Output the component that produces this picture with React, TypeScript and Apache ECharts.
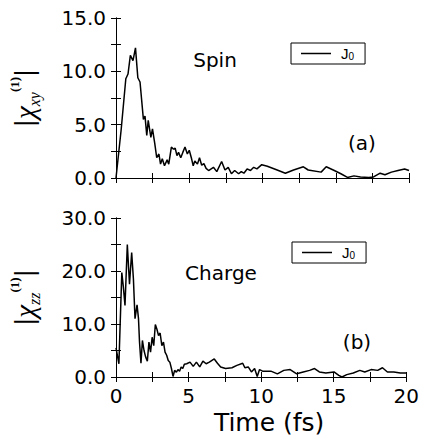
import React, { useEffect, useRef } from "react";
import * as echarts from "echarts";

// ---- data ----
const spinTime = [
  0, 0.35, 0.67, 0.82, 0.98, 1.16, 1.33, 1.49, 1.64, 1.87, 1.98, 2.1, 2.2, 2.38, 2.49, 2.64, 2.78, 2.93,
  3.04, 3.16, 3.31, 3.49, 3.6, 3.78, 3.93, 4.04, 4.16, 4.27, 4.42, 4.56, 4.71, 4.87, 5.0, 5.16, 5.27,
  5.38, 5.56, 5.7, 5.85, 6.0, 6.15, 6.32, 6.65, 6.88, 7.21, 7.44, 7.66, 7.88, 8.1, 8.37, 8.55, 8.73,
  8.95, 9.18, 9.4, 9.62, 9.95, 10.33, 11.0, 11.56, 12.12, 12.79, 13.12, 14.0, 14.35, 14.9, 15.35,
  15.8, 16.24, 16.69, 17.25, 17.58, 18.03, 18.36, 18.8, 19.25, 19.7, 20.0,
];
const spinValue = [
  0, 4.5, 9.3, 9.75, 11.5, 11.0, 12.2, 9.4, 9.0, 5.5, 5.8, 4.0, 5.4, 3.8, 4.6, 3.3, 1.9, 2.25,
  1.3, 1.8, 1.15, 1.7, 1.3, 2.9, 2.7, 2.8, 2.1, 2.4, 1.9, 2.4, 2.9, 2.25, 2.6, 1.8, 1.15,
  1.6, 1.3, 1.9, 1.2, 1.35, 0.9, 0.7, 1.0, 0.6, 1.55, 0.75, 1.0, 0.4, 0.7, 0.4, 0.6, 0.45,
  0.85, 0.7, 1.0, 0.85, 1.25, 1.1, 0.75, 0.45, 0.75, 1.05, 0.75, 0.55, 1.05, 0.7, 0.4,
  0.05, 0.2, 0.1, 0.05, 0.1, 0.45, 0.3, 0.55, 0.7, 0.85, 0.7,
];
const chargeTime = [
  0, 0.2, 0.4, 0.5, 0.62, 0.78, 0.93, 1.08, 1.2, 1.31, 1.45, 1.55, 1.62, 1.72, 1.82, 1.93, 2.04, 2.16,
  2.27, 2.38, 2.49, 2.6, 2.71, 2.82, 2.93, 3.04, 3.16, 3.27, 3.38, 3.49, 3.6, 3.71, 3.82, 3.93, 4.04,
  4.16, 4.27, 4.38, 4.49, 4.6, 4.71, 4.87, 5.1, 5.32, 5.54, 5.77, 5.99, 6.21, 6.43, 6.77, 6.99, 7.21,
  7.55, 7.99, 8.33, 8.73, 8.88, 9.11, 9.33, 9.55, 9.73, 9.89, 10.1, 10.67, 11.12, 11.56, 12.0, 12.45,
  12.9, 13.34, 13.68, 14.01, 14.46, 15.02, 15.35, 15.57, 15.9, 16.35, 16.8, 17.14, 17.58, 18.03,
  18.36, 18.7, 19.14, 19.59, 20.0,
];
const chargeValue = [
  5.5, 2.5, 19.7, 17.2, 13.5, 25.0, 17.5, 23.5, 18.5, 11.0, 13.6, 11.0, 6.6, 2.6, 6.9, 5.0, 3.8, 3.0,
  6.6, 4.7, 7.5, 5.9, 9.9, 9.0, 7.8, 8.3, 5.9, 6.6, 4.7, 4.1, 3.1, 2.8, 1.6, 0.1, 1.25,
  0.9, 1.4, 1.1, 1.9, 1.6, 2.4, 2.5, 2.8, 2.0, 2.8, 1.9, 3.0, 2.5, 2.8, 3.4, 2.6, 1.9,
  1.6, 1.75, 2.2, 2.6, 1.75, 1.9, 0.95, 1.6, 0.1, 1.4, 1.1, 1.1, 0.6, 1.25, 1.4, 0.6,
  0.95, 1.25, 1.6, 0.95, 0.75, 0.95, 0.3, 0.0, 0.45, 0.75, 1.25, 0.95, 1.4, 1.25,
  1.75, 0.95, 0.95, 0.75, 0.75,
];
// axis ranges: tick every `interval`, label every `labelEvery`
const xTicks = { min: 0, max: 20, interval: 2.5, labelEvery: 5 };
const spinAxis = { min: 0, max: 15, interval: 2.5, labelEvery: 5 };
const chargeAxis = { min: 0, max: 30, interval: 5, labelEvery: 10 };
const seriesName = "J0";
const panelTitles = ["Spin", "Charge"];
const panelTags = ["(a)", "(b)"];

const FONT = "DejaVu Sans";

const isMultiple = (v: number, m: number) => Math.abs(v / m - Math.round(v / m)) < 1e-6;

export default function App() {
  const ref = useRef<HTMLDivElement>(null);
  useEffect(() => {
    document.body.style.margin = "0";
    const chart = echarts.init(ref.current!, null, { renderer: "svg" });
    const spinData = spinTime.map((t, i) => [t, spinValue[i]]);
    const chargeData = chargeTime.map((t, i) => [t, chargeValue[i]]);

    const grids = [
      { left: 110, top: 18, width: 299, height: 160 },
      { left: 110, top: 218, width: 299, height: 159 },
    ];
    const tickCommon = {
      axisLine: { show: true, lineStyle: { color: "#000", width: 1 } },
      axisTick: { show: true, inside: true, length: 5, lineStyle: { color: "#000" } },
      splitLine: { show: false },
    };
    const rng = (a: any) => ({ min: a.min, max: a.max, interval: a.interval });
    const xAxes: any[] = [];
    const yAxes: any[] = [];
    [0, 1].forEach((g) => {
      xAxes.push({
        type: "value",
        gridIndex: g,
        position: "bottom",
        ...rng(xTicks),
        ...tickCommon,
        axisLabel: {
          show: g === 1,
          fontFamily: FONT,
          fontSize: 20,
          color: "#000",
          margin: 9,
          formatter: (v: number) => (isMultiple(v, xTicks.labelEvery) ? String(v) : ""),
        },
        name: g === 1 ? "Time (fs)" : "",
        nameLocation: "middle",
        nameGap: 33,
        nameTextStyle: { fontFamily: FONT, fontSize: 25, color: "#000", padding: [0, 0, 0, 16] },
      });
    });
    [0, 1].forEach((g) => {
      xAxes.push({
        type: "value",
        gridIndex: g,
        position: "top",
        ...rng(xTicks),
        ...tickCommon,
        axisLabel: { show: false },
      });
    });
    const yRanges = [spinAxis, chargeAxis];
    const ySub = ["xy", "zz"];
    [0, 1].forEach((g) => {
      yAxes.push({
        type: "value",
        gridIndex: g,
        position: "left",
        ...rng(yRanges[g]),
        ...tickCommon,
        axisLabel: {
          fontFamily: FONT,
          fontSize: 20,
          color: "#000",
          margin: 10,
          formatter: (v: number) => (isMultiple(v, yRanges[g].labelEvery) ? v.toFixed(1) : ""),
        },
        name: `{bar||}{chi|χ}{sub|${ySub[g]}}{sup|(1)}{bar||}`,
        nameLocation: "middle",
        nameRotate: 90,
        nameGap: 74,
        nameTextStyle: {
          color: "#000",
          lineHeight: 34,
          rich: {
            bar: { fontFamily: FONT, fontSize: 24, color: "#000", lineHeight: 34 },
            chi: { fontFamily: "Liberation Serif", fontStyle: "italic", fontSize: 29, color: "#000", lineHeight: 34 },
            sub: { fontFamily: "Liberation Serif", fontStyle: "italic", fontSize: 16, color: "#000", verticalAlign: "bottom", lineHeight: 34 },
            sup: { fontFamily: "Liberation Serif", fontWeight: "bold", fontSize: 13, color: "#000", verticalAlign: "top", lineHeight: 34 },
          },
        },
      });
    });
    [0, 1].forEach((g) => {
      yAxes.push({
        type: "value",
        gridIndex: g,
        position: "right",
        ...rng(yRanges[g]),
        ...tickCommon,
        axisLabel: { show: false },
      });
    });

    const legendCommon = {
      orient: "horizontal",
      padding: [3, 11, 3, 10],
      itemWidth: 30,
      itemHeight: 1.5,
      icon: "rect",
      borderColor: "#000",
      borderWidth: 1,
      borderRadius: 0,
      backgroundColor: "#fff",
      selectedMode: false,
      itemStyle: { color: "#000", borderWidth: 0 },
      formatter: () => "{j|J}{s|0}",
      textStyle: {
        color: "#000",
        rich: {
          j: { fontFamily: "Liberation Sans", fontSize: 15, color: "#000", padding: [0, 0, 0, 5], lineHeight: 15 },
          s: { fontFamily: "Liberation Sans", fontSize: 10, color: "#000", verticalAlign: "bottom", lineHeight: 15, padding: [5, 0, 0, 0] },
        },
      },
    };

    const option: any = {
      animation: false,
      backgroundColor: "#fff",
      grid: grids,
      xAxis: xAxes,
      yAxis: yAxes,
      legend: [
        { ...legendCommon, left: 291, top: 43, data: [seriesName] },
        { ...legendCommon, left: 292, top: 242, data: [seriesName] },
      ],
      graphic: [
        { type: "text", x: 215, y: 60, style: { text: panelTitles[0], fontFamily: FONT, fontSize: 20, fill: "#000", align: "center", verticalAlign: "middle" } },
        { type: "text", x: 221, y: 273, style: { text: panelTitles[1], fontFamily: FONT, fontSize: 20, fill: "#000", align: "center", verticalAlign: "middle" } },
        { type: "text", x: 362, y: 143, style: { text: panelTags[0], fontFamily: FONT, fontSize: 20, fill: "#000", align: "center", verticalAlign: "middle" } },
        { type: "text", x: 357, y: 342, style: { text: panelTags[1], fontFamily: FONT, fontSize: 20, fill: "#000", align: "center", verticalAlign: "middle" } },
      ],
      series: [
        {
          name: seriesName,
          type: "line",
          xAxisIndex: 0,
          yAxisIndex: 0,
          data: spinData,
          symbol: "none",
          lineStyle: { color: "#000", width: 1.5 },
          itemStyle: { color: "#000" },
        },
        {
          name: seriesName,
          type: "line",
          xAxisIndex: 1,
          yAxisIndex: 1,
          data: chargeData,
          symbol: "none",
          lineStyle: { color: "#000", width: 1.5 },
          itemStyle: { color: "#000" },
        },
      ],
    };
    chart.setOption(option);
    return () => chart.dispose();
  }, []);
  return <div ref={ref} style={{ width: 422, height: 438 }} />;
}
